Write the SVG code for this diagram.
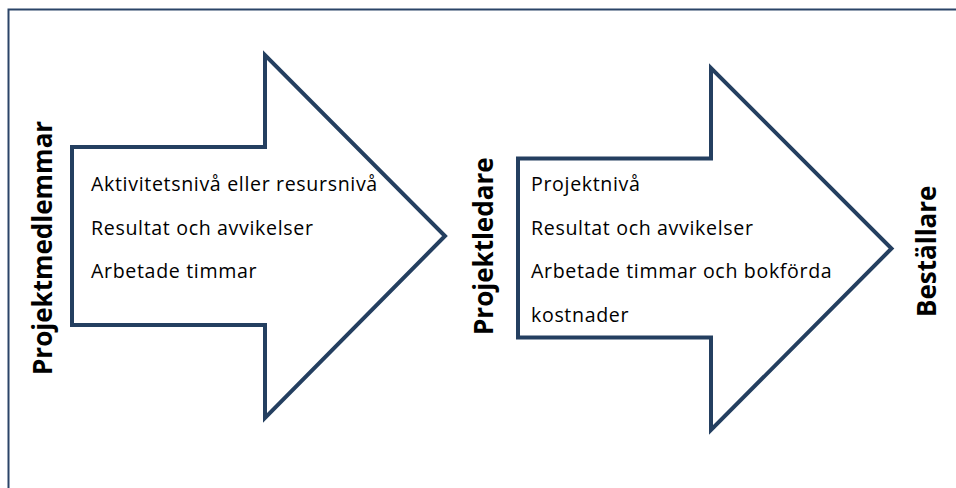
<svg xmlns="http://www.w3.org/2000/svg" width="956" height="488" viewBox="0 0 956 488">
  <style>
    .frame { fill: none; stroke: #2b4468; stroke-width: 2; }
    .arrow { fill: #ffffff; stroke: #243f60; stroke-width: 4; stroke-linejoin: miter; }
    .item { font-family: "Open Sans", "Liberation Sans", sans-serif; font-size: 19.6px; letter-spacing: 0.65px; fill: #000000; }
    .role { font-family: "Open Sans", "Liberation Sans", sans-serif; font-size: 26px; font-weight: bold; fill: #000000; }
  </style>
  <rect width="956" height="488" fill="#ffffff"/>
  <!-- outer frame, open towards the right and bottom edges -->
  <rect class="frame" x="8.5" y="9.5" width="960" height="500"/>

  <g id="projektmedlemmar">
    <text class="role" transform="translate(52,375) rotate(-90)">Projektmedlemmar</text>
  </g>

  <g id="arrow-members">
    <polygon class="arrow" points="72,147 265,147 265,55 445,236 265,418 265,325 72,325"/>
    <text class="item" x="91" y="191">Aktivitetsnivå eller resursnivå</text>
    <text class="item" x="91" y="234.5">Resultat och avvikelser</text>
    <text class="item" x="91" y="278">Arbetade timmar</text>
  </g>

  <g id="projektledare">
    <text class="role" transform="translate(492.5,335) rotate(-90)">Projektledare</text>
  </g>

  <g id="arrow-manager">
    <polygon class="arrow" points="518,158.5 711,158.5 711,68 891.5,248.5 711,430 711,337.5 518,337.5"/>
    <text class="item" x="531" y="191">Projektnivå</text>
    <text class="item" x="531" y="234.5">Resultat och avvikelser</text>
    <text class="item" x="531" y="278">Arbetade timmar och bokförda</text>
    <text class="item" x="531" y="321.5">kostnader</text>
  </g>

  <g id="bestallare">
    <text class="role" transform="translate(936,317) rotate(-90)">Beställare</text>
  </g>
</svg>
